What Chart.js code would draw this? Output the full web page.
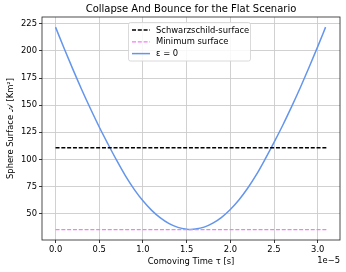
<!DOCTYPE html>
<html><head><meta charset="utf-8">
<script src="https://cdn.jsdelivr.net/npm/chart.js@4/dist/chart.umd.min.js"></script>
<style>html,body{margin:0;padding:0;background:#fff}#wrap{width:346px;height:272px}</style>
</head><body><div id="wrap"><canvas id="c" width="346" height="272"></canvas></div>
<script>
const titleText = "Collapse And Bounce for the Flat Scenario";
const xLabel = "Comoving Time τ [s]";
const yLabel = "Sphere Surface 𝒜 [Km²]";
const offsetText = "1e−5";
const seriesLabels = ["Schwarzschild-surface", "Minimum surface", "ε = 0"];

// comoving time in units of 1e-5 s
const times = [0.0,0.1,0.2,0.3,0.4,0.5,0.6,0.7,0.8,0.9,1.0,1.1,1.2,1.3,1.4,1.5,1.545,1.6,1.7,1.8,1.9,2.0,2.1,2.2,2.3,2.4,2.5,2.6,2.7,2.8,2.9,3.0,3.09];
const surface = [222.0,202.0,182.8,164.3,146.7,129.9,114.2,99.0,84.8,72.4,61.8,53.0,46.0,40.7,37.3,35.6,35.4,35.7,37.5,41.2,46.6,53.8,62.8,73.6,86.1,100.5,115.7,131.5,148.4,166.1,184.7,204.0,222.0];
const lineSpan = [0.0, 3.1];
const schwarzschildSurface = [110.75, 110.75];
const minimumSurface = [35.3, 35.3];
const xTicks = [0.0, 0.5, 1.0, 1.5, 2.0, 2.5, 3.0];
const yTicks = [50, 75, 100, 125, 150, 175, 200, 225];

const FONT = "DejaVu Sans";
const colors = ["#000000", "#f47cf4", "#6495ed"];

const pts = (xs, ys) => xs.map((x, i) => ({x: x, y: ys[i]}));

const decor = {
  id: 'decor',
  afterDraw(chart) {
    const ctx = chart.ctx, a = chart.chartArea;
    ctx.save();
    ctx.strokeStyle = '#222';
    ctx.lineWidth = 0.8;
    ctx.strokeRect(a.left, a.top, a.right - a.left, a.bottom - a.top);
    ctx.fillStyle = '#000';
    ctx.textAlign = 'center';
    ctx.textBaseline = 'middle';
    ctx.font = `10px "${FONT}"`;
    ctx.fillText(titleText, (a.left + a.right) / 2, 9.5);
    ctx.font = `8.4px "${FONT}"`;
    ctx.fillText(xLabel, (a.left + a.right) / 2, 261.5);
    ctx.textAlign = 'right';
    ctx.fillText(offsetText, a.right, 260.5);
    ctx.save();
    ctx.translate(10.5, (a.top + a.bottom) / 2);
    ctx.rotate(-Math.PI / 2);
    ctx.textAlign = 'center';
    ctx.fillText(yLabel, 0, 0);
    ctx.restore();
    const lx = 128.5, ly = 22.5, lw = 122, lh = 38.5;
    ctx.beginPath();
    if (ctx.roundRect) ctx.roundRect(lx, ly, lw, lh, 2); else ctx.rect(lx, ly, lw, lh);
    ctx.fillStyle = 'rgba(255,255,255,0.85)';
    ctx.fill();
    ctx.strokeStyle = '#d0d0d0';
    ctx.lineWidth = 0.8;
    ctx.stroke();
    const ds = chart.data.datasets;
    ctx.textAlign = 'left';
    ctx.font = `8.4px "${FONT}"`;
    for (let i = 0; i < ds.length; i++) {
      const y = 30 + i * 11.8;
      ctx.beginPath();
      ctx.strokeStyle = ds[i].borderColor;
      ctx.lineWidth = ds[i].borderWidth;
      ctx.setLineDash(ds[i].borderDash || []);
      ctx.moveTo(132, y);
      ctx.lineTo(150, y);
      ctx.stroke();
      ctx.setLineDash([]);
      ctx.fillStyle = '#000';
      ctx.fillText(ds[i].label, 156, y + 0.5);
    }
    ctx.restore();
  }
};

new Chart(document.getElementById('c'), {
  type: 'line',
  data: {
    datasets: [
      {label: seriesLabels[0], data: pts(lineSpan, schwarzschildSurface), borderColor: colors[0], borderWidth: 1.3, borderDash: [4, 1.8], pointRadius: 0, fill: false},
      {label: seriesLabels[1], data: pts(lineSpan, minimumSurface), borderColor: colors[1], borderWidth: 1.3, borderDash: [4, 1.8], pointRadius: 0, fill: false},
      {label: seriesLabels[2], data: pts(times, surface), borderColor: colors[2], borderWidth: 1.5, pointRadius: 0, fill: false, cubicInterpolationMode: 'monotone'}
    ]
  },
  options: {
    responsive: false,
    animation: false,
    devicePixelRatio: 1,
    layout: {padding: {top: 17, right: 6, left: 0, bottom: 0}},
    plugins: {legend: {display: false}, title: {display: false}, tooltip: {enabled: false}},
    scales: {
      x: {
        type: 'linear', min: -0.155, max: 3.255,
        afterBuildTicks: s => { s.ticks = xTicks.map(v => ({value: v})); },
        afterFit: s => { s.height = 32; },
        ticks: {callback: v => v.toFixed(1), color: '#000', font: {family: FONT, size: 8.4}, padding: 2, maxRotation: 0, autoSkip: false},
        grid: {color: '#cccccc', lineWidth: 0.9, tickLength: 3, tickColor: '#222'},
        border: {display: false}
      },
      y: {
        type: 'linear', min: 25.65, max: 231.35,
        afterBuildTicks: s => { s.ticks = yTicks.map(v => ({value: v})); },
        afterFit: s => { s.width = 42; },
        ticks: {color: '#000', font: {family: FONT, size: 8.4}, padding: 2, autoSkip: false},
        grid: {color: '#cccccc', lineWidth: 0.9, tickLength: 3, tickColor: '#222'},
        border: {display: false}
      }
    }
  },
  plugins: [decor]
});
</script>
</body></html>
